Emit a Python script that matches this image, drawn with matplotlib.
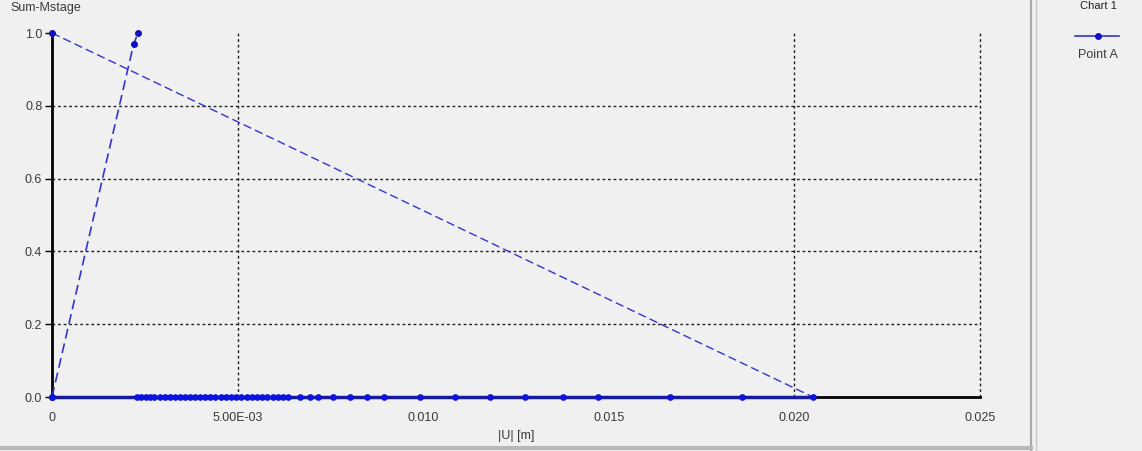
import matplotlib
matplotlib.use("Agg")
import matplotlib.pyplot as plt
from matplotlib.lines import Line2D

# Load-displacement curve for Point A
ramp_u = [0.0, 0.0022, 0.00232]
ramp_m = [0.0, 0.97, 1.0]

unload_u = [0.0, 0.0205]
unload_m = [1.0, 0.0]

flat_u = [0.0, 0.00229, 0.00240, 0.00252, 0.00263, 0.00275, 0.00291, 0.00305,
          0.00318, 0.00332, 0.00345, 0.00358, 0.00372, 0.00385, 0.00399,
          0.00412, 0.00426, 0.00440, 0.00455, 0.00468, 0.00482, 0.00496,
          0.00510, 0.00524, 0.00538, 0.00552, 0.00566, 0.00580, 0.00595,
          0.00609, 0.00623, 0.00636, 0.00668, 0.00695, 0.00717, 0.00757,
          0.00803, 0.00849, 0.00895, 0.00992, 0.01086, 0.01180, 0.01275,
          0.01377, 0.01472, 0.01666, 0.01860, 0.02051]
flat_m = [0.0] * len(flat_u)

x_ticks = [0.0, 0.005, 0.010, 0.015, 0.020, 0.025]
x_tick_labels = ["0", "5.00E-03", "0.010", "0.015", "0.020", "0.025"]
y_ticks = [0.0, 0.2, 0.4, 0.6, 0.8, 1.0]
y_tick_labels = ["0.0", "0.2", "0.4", "0.6", "0.8", "1.0"]
x_grid = [0.005, 0.020, 0.025]
y_grid = [0.2, 0.4, 0.6, 0.8]

BG = "#f0f0f0"
TXT = "#3a3a3a"
LINE = "#3535cc"
MARK = "#1010c0"
FLAT = "#1a1aa0"
FONT = "Liberation Sans"

W, H = 1142, 451
fig = plt.figure(figsize=(W / 100, H / 100), dpi=100, facecolor=BG)

x0, x1 = 52, 980
y0, y1 = 397, 33
ax = fig.add_axes([x0 / W, (H - y0) / H, (x1 - x0) / W, (y0 - y1) / H])
ax.set_facecolor(BG)
ax.set_xlim(0, 0.025)
ax.set_ylim(0, 1.0)

# dotted grid
for gx in x_grid:
    ax.plot([gx, gx], [0, 1.0], color="#202020", lw=1.0, ls=(0, (2, 2)),
            zorder=1, clip_on=False)
for gy in y_grid:
    ax.plot([0, 0.025], [gy, gy], color="#202020", lw=1.0, ls=(0, (2, 2)),
            zorder=1, clip_on=False)

for s in ["top", "right"]:
    ax.spines[s].set_visible(False)
for s in ["left", "bottom"]:
    ax.spines[s].set_linewidth(2)
    ax.spines[s].set_color("black")
    ax.spines[s].set_zorder(2)

ax.set_xticks(x_ticks)
ax.set_xticklabels(x_tick_labels, fontsize=9, color=TXT, family=FONT)
ax.set_xticks(x_grid, minor=True)
ax.set_yticks(y_ticks)
ax.set_yticklabels(y_tick_labels, fontsize=9, color=TXT, family=FONT)
ax.tick_params(axis="x", which="major", direction="in", length=0, pad=11)
ax.tick_params(axis="x", which="minor", direction="in", length=8, width=1,
               color="black")
ax.tick_params(axis="y", direction="out", length=5, width=1, color="black", pad=2)

# curve segments
ax.plot(unload_u, unload_m, color=LINE, lw=1.0, ls=(0, (6, 3)), zorder=3)
ax.plot(ramp_u, ramp_m, color=LINE, lw=1.2, ls=(0, (6, 3)), zorder=3)
ax.plot(ramp_u, ramp_m, ls="none", marker="o", ms=4, color=MARK, zorder=4,
        clip_on=False)
ax.plot(unload_u[:1], unload_m[:1], ls="none", marker="o", ms=4, color=MARK,
        zorder=4, clip_on=False)
ax.plot(flat_u, flat_m, color=FLAT, lw=2.5, marker="o", ms=3.8,
        markerfacecolor="#0a14e0", markeredgecolor="#0a14e0", zorder=4,
        clip_on=False)

ax.set_xlabel("|U| [m]", fontsize=9, color=TXT, family=FONT, labelpad=4)
fig.text(10 / W, 1 - 8 / H, "Sum-Mstage", fontsize=9, color=TXT, family=FONT,
         ha="left", va="center")

# legend panel
fig.add_artist(Line2D([1031 / W, 1031 / W], [0, 1], color="#a8a8a8", lw=1.5))
fig.add_artist(Line2D([1036 / W, 1036 / W], [0, 1], color="#c8c8c8", lw=1.0))
fig.add_artist(Line2D([0, 1031 / W], [3 / H, 3 / H], color="#b8b8b8", lw=3))
fig.text(1098 / W, 1 - 1 / H, "Chart 1", fontsize=8, color="#202020", family=FONT,
         ha="center", va="top")
fig.add_artist(Line2D([1075 / W, 1119 / W], [1 - 36 / H, 1 - 36 / H], color=LINE, lw=1.2))
fig.add_artist(Line2D([1098 / W], [1 - 36 / H], marker="o", ms=4, color=MARK))
fig.text(1098 / W, 1 - 55 / H, "Point A", fontsize=9, color=TXT, family=FONT,
         ha="center", va="center")

fig.savefig("out.png", dpi=100, facecolor=BG)
